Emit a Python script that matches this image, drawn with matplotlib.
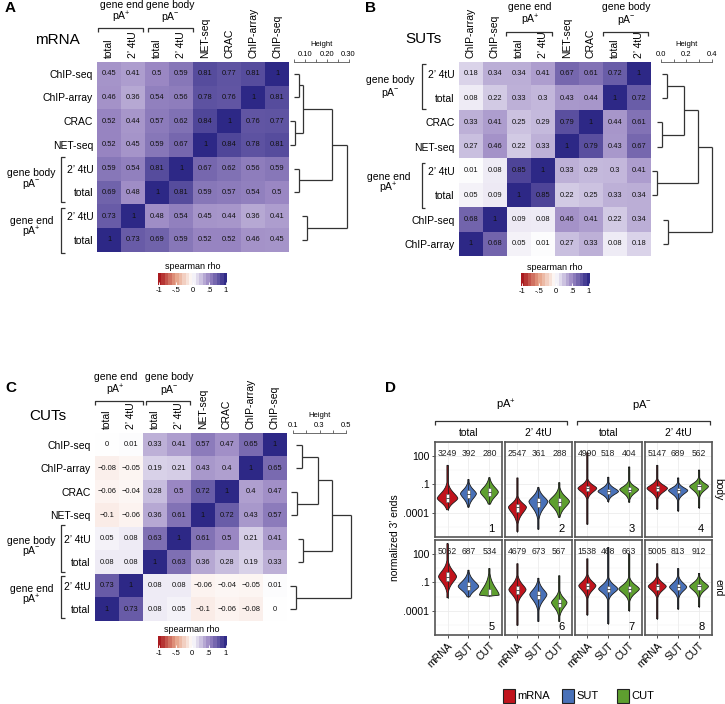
import numpy as np
import matplotlib
matplotlib.use('Agg')
import matplotlib.pyplot as plt
from matplotlib.colors import LinearSegmentedColormap
from matplotlib.patches import Rectangle
from matplotlib.lines import Line2D

plt.rcParams['font.family'] = ['Liberation Sans', 'DejaVu Sans']
plt.rcParams['mathtext.fontset'] = 'custom'
plt.rcParams['mathtext.rm'] = 'Liberation Sans'
plt.rcParams['mathtext.it'] = 'Liberation Sans'
plt.rcParams['mathtext.bf'] = 'Liberation Sans:bold'

# ---------------------------------------------------------------- data
A_cols = ['total', '2’ 4tU', 'total', '2’ 4tU', 'NET-seq', 'CRAC', 'ChIP-array', 'ChIP-seq']
A_rows = ['ChIP-seq', 'ChIP-array', 'CRAC', 'NET-seq', '2’ 4tU', 'total', '2’ 4tU', 'total']
A_rho = [
    [0.45, 0.41, 0.5, 0.59, 0.81, 0.77, 0.81, 1],
    [0.46, 0.36, 0.54, 0.56, 0.78, 0.76, 1, 0.81],
    [0.52, 0.44, 0.57, 0.62, 0.84, 1, 0.76, 0.77],
    [0.52, 0.45, 0.59, 0.67, 1, 0.84, 0.78, 0.81],
    [0.59, 0.54, 0.81, 1, 0.67, 0.62, 0.56, 0.59],
    [0.69, 0.48, 1, 0.81, 0.59, 0.57, 0.54, 0.5],
    [0.73, 1, 0.48, 0.54, 0.45, 0.44, 0.36, 0.41],
    [1, 0.73, 0.69, 0.59, 0.52, 0.52, 0.46, 0.45],
]
# merges: (child, child, height); leaves 0..7 = rows, merges numbered 8..
A_merges = [(0, 1, 0.073), (2, 3, 0.055), (8, 9, 0.091), (4, 5, 0.073),
            (10, 11, 0.223), (6, 7, 0.111), (12, 13, 0.294)]

B_cols = ['ChIP-array', 'ChIP-seq', 'total', '2’ 4tU', 'NET-seq', 'CRAC', 'total', '2’ 4tU']
B_rows = ['2’ 4tU', 'total', 'CRAC', 'NET-seq', '2’ 4tU', 'total', 'ChIP-seq', 'ChIP-array']
B_rho = [
    [0.18, 0.34, 0.34, 0.41, 0.67, 0.61, 0.72, 1],
    [0.08, 0.22, 0.33, 0.3, 0.43, 0.44, 1, 0.72],
    [0.33, 0.41, 0.25, 0.29, 0.79, 1, 0.44, 0.61],
    [0.27, 0.46, 0.22, 0.33, 1, 0.79, 0.43, 0.67],
    [0.01, 0.08, 0.85, 1, 0.33, 0.29, 0.3, 0.41],
    [0.05, 0.09, 1, 0.85, 0.22, 0.25, 0.33, 0.34],
    [0.68, 1, 0.09, 0.08, 0.46, 0.41, 0.22, 0.34],
    [1, 0.68, 0.05, 0.01, 0.27, 0.33, 0.08, 0.18],
]
B_merges = [(0, 1, 0.047), (2, 3, 0.008), (8, 9, 0.181), (4, 5, -0.031),
            (10, 11, 0.291), (6, 7, 0.055), (12, 13, 0.402)]

C_cols = ['total', '2’ 4tU', 'total', '2’ 4tU', 'NET-seq', 'CRAC', 'ChIP-array', 'ChIP-seq']
C_rows = ['ChIP-seq', 'ChIP-array', 'CRAC', 'NET-seq', '2’ 4tU', 'total', '2’ 4tU', 'total']
C_rho = [
    [0, 0.01, 0.33, 0.41, 0.57, 0.47, 0.65, 1],
    [-0.08, -0.05, 0.19, 0.21, 0.43, 0.4, 1, 0.65],
    [-0.06, -0.04, 0.28, 0.5, 0.72, 1, 0.4, 0.47],
    [-0.1, -0.06, 0.36, 0.61, 1, 0.72, 0.43, 0.57],
    [0.05, 0.08, 0.63, 1, 0.61, 0.5, 0.21, 0.41],
    [0.08, 0.08, 1, 0.63, 0.36, 0.28, 0.19, 0.33],
    [0.73, 1, 0.08, 0.08, -0.06, -0.04, -0.05, 0.01],
    [1, 0.73, 0.08, 0.05, -0.1, -0.06, -0.08, 0],
]
C_merges = [(0, 1, 0.166), (2, 3, 0.128), (8, 9, 0.291), (4, 5, 0.178),
            (10, 11, 0.392), (6, 7, 0.123), (12, 13, 0.535)]

D_types = ['mRNA', 'SUT', 'CUT']
D_colors = ['#C1141D', '#4971B8', '#5E9F2F']
D_strip_cols = ['total', '2’ 4tU', 'total', '2’ 4tU']
D_strip_rows = ['body', 'end']
D_counts = [[3249, 392, 280], [2547, 361, 288], [4990, 518, 404], [5147, 689, 562],
            [5062, 687, 534], [4679, 673, 567], [1538, 468, 663], [5005, 813, 912]]
# per violin (log10 scale): min, body low, mode, body high, max, half width
D_viol = [
    [(-3.7, -3.5, -2.5, -1.2, 1.0, 0.49), (-3.43, -3.16, -2.0, -1.0, -0.5, 0.38), (-3.1, -3.0, -1.83, -0.66, -0.3, 0.43)],
    [(-6.0, -4.83, -3.43, -2.5, -0.33, 0.43), (-5.76, -4.33, -2.83, -1.7, -1.33, 0.45), (-4.5, -4.16, -2.83, -1.66, -0.83, 0.49)],
    [(-5.23, -2.33, -1.43, -0.66, 2.33, 0.45), (-2.83, -2.5, -1.76, -1.0, -0.26, 0.49), (-2.9, -2.43, -1.56, -0.83, 0.83, 0.45)],
    [(-3.63, -2.33, -1.43, -0.66, 1.0, 0.49), (-3.83, -2.5, -1.66, -1.0, -0.33, 0.46), (-3.5, -2.16, -1.23, -0.5, 0.5, 0.45)],
    [(-2.63, -1.77, -0.4, 0.97, 3.1, 0.43), (-2.53, -2.46, -1.43, -0.23, 0.28, 0.49), (-2.46, -2.46, -2.35, -0.57, 0.46, 0.47)],
    [(-5.54, -2.97, -1.77, -0.57, 0.97, 0.41), (-5.13, -3.66, -2.29, -1.09, -0.57, 0.41), (-5.13, -4.35, -3.14, -2.11, -0.3, 0.37)],
    [(-4.45, -2.46, -1.36, -0.4, 1.49, 0.41), (-5.37, -2.63, -1.7, -0.75, 2.69, 0.46), (-4.0, -2.73, -1.7, -0.75, 2.0, 0.49)],
    [(-4.86, -2.39, -1.43, -0.57, 0.97, 0.43), (-3.83, -2.46, -1.5, -0.57, 0.46, 0.41), (-3.59, -2.39, -1.43, -0.57, -0.06, 0.45)],
]
D_yticks = [2, -1, -4]
D_yticklabels = ['100', '.1', '.0001']

# ---------------------------------------------------------------- helpers
W, H = 725, 704
fig = plt.figure(figsize=(W / 100, H / 100), dpi=100)

def axpx(x0, y0, x1, y1):
    return fig.add_axes([x0 / W, 1 - y1 / H, (x1 - x0) / W, (y1 - y0) / H])

def tpx(x, y, s, **kw):
    kw.setdefault('ha', 'center')
    kw.setdefault('va', 'center')
    fig.text(x / W, 1 - y / H, s, **kw)

def lpx(xs, ys, color='#333333', lw=0.9):
    fig.add_artist(Line2D([x / W for x in xs], [1 - y / H for y in ys],
                          color=color, lw=lw, transform=fig.transFigure,
                          solid_capstyle='butt'))

def col_bracket(x0, x1, y, drop=4):
    lpx([x0, x0, x1, x1], [y + drop, y, y, y + drop])

def row_bracket(x, y0, y1, ext=3.5):
    lpx([x + ext, x, x, x + ext], [y0, y0, y1, y1])

cmap = LinearSegmentedColormap.from_list('rho', [
    (0.0, '#A8161C'), (0.25, '#E6A186'), (0.5, '#FFFFFF'),
    (0.75, '#9C89C4'), (1.0, '#2D2886')])

def fmt(v):
    s = ('%g' % v)
    return s.replace('-', '−')

FS = 7.5

def heatmap(box, rho, rows, cols):
    ax = axpx(*box)
    ax.imshow(np.array(rho, dtype=float), cmap=cmap, vmin=-1, vmax=1,
              aspect='auto', interpolation='nearest')
    for i, r in enumerate(rho):
        for j, v in enumerate(r):
            ax.text(j, i, fmt(v), ha='center', va='center', fontsize=5.4, color='#111111')
    ax.set_xticks(range(len(cols)))
    ax.set_xticklabels(cols, rotation=90, fontsize=FS)
    ax.xaxis.tick_top()
    ax.set_yticks(range(len(rows)))
    ax.set_yticklabels(rows, fontsize=FS)
    ax.tick_params(length=0, pad=3)
    for s in ax.spines.values():
        s.set_visible(False)
    return ax

def dendro(box, merges, hang, ref, ref_px, ppu, ticks, ticklabels):
    x0, y0, x1, y1 = box
    ax = axpx(x0, y0, x1, y1)
    ax.set_xlim(ref + (x0 - ref_px) / ppu, ref + (x1 - ref_px) / ppu)
    ax.set_ylim(7.5, -0.5)
    ypos = {i: float(i) for i in range(8)}
    hgt = {}
    nid = 8
    for a, b, h in merges:
        for c in (a, b):
            hc = hgt.get(c, h - hang)
            ax.plot([hc, h], [ypos[c], ypos[c]], color='#333333', lw=0.9,
                    solid_capstyle='butt')
        ax.plot([h, h], [ypos[a], ypos[b]], color='#333333', lw=0.9,
                solid_capstyle='butt')
        ypos[nid] = (ypos[a] + ypos[b]) / 2
        hgt[nid] = h
        nid += 1
    for k in ('left', 'right', 'bottom'):
        ax.spines[k].set_visible(False)
    ax.spines['top'].set_bounds(ticks[0], ticks[-1])
    ax.spines['top'].set_linewidth(0.6)
    ax.spines['top'].set_color('#555555')
    ax.patch.set_alpha(0)
    ax.set_yticks([])
    ax.xaxis.tick_top()
    ax.set_xticks(ticks)
    ax.set_xticklabels(ticklabels, fontsize=5.5)
    ax.tick_params(axis='x', length=2, width=0.6, pad=1, color='#555555')
    ax.annotate('Height', xy=((ticks[0] + ticks[-1]) / 2, 1), xycoords=('data', 'axes fraction'),
                xytext=(0, 10), textcoords='offset points', ha='center', va='bottom', fontsize=5.5)
    return ax

def colorbar(box, label_xy):
    ax = axpx(*box)
    edges = np.linspace(-1.03, 1.03, 21)
    centers = (edges[:-1] + edges[1:]) / 2
    ax.imshow(centers[None, :], cmap=cmap, vmin=-1, vmax=1, aspect='auto',
              extent=(-1.03, 1.03, 0, 1), interpolation='nearest')
    ax.set_xlim(-1.03, 1.03)
    ax.set_yticks([])
    ax.set_xticks([-1, -0.5, 0, 0.5, 1])
    ax.set_xticklabels(['-1', '-.5', '0', '.5', '1'], fontsize=5.5)
    ax.tick_params(axis='x', direction='in', length=2.5, width=0.6, color='white', pad=1.5)
    for s in ax.spines.values():
        s.set_visible(False)
    tpx(label_xy[0], label_xy[1], 'spearman rho', fontsize=6.5)

# ---------------------------------------------------------------- panel A
tpx(5, 8, 'A', fontsize=11, fontweight='bold', ha='left')
tpx(57.5, 40, 'mRNA', fontsize=11)
heatmap((97.3, 61.7, 289.3, 251.7), A_rho, A_rows, A_cols)
tpx(121.5, 5, 'gene end', fontsize=FS)
tpx(121.5, 17, r'pA$^{+}$', fontsize=FS)
col_bracket(98, 143, 27.5)
tpx(170, 5, 'gene body', fontsize=FS)
tpx(170, 17, r'pA$^{-}$', fontsize=FS)
col_bracket(148, 193, 27.5)
tpx(31.7, 172.7, 'gene body', fontsize=FS)
tpx(31.7, 184, r'pA$^{-}$', fontsize=FS)
row_bracket(61, 156.7, 201.7)
tpx(31.7, 220.7, 'gene end', fontsize=FS)
tpx(31.7, 232, r'pA$^{+}$', fontsize=FS)
row_bracket(61, 208.3, 252.7)
dendro((285, 61.7, 362, 251.7), A_merges, 0.025, 0.05, 294, 218,
       [0.05, 0.10, 0.15, 0.20, 0.25, 0.30], ['', '0.10', '', '0.20', '', '0.30'])
colorbar((158.3, 272.7, 226.7, 285), (192.5, 266.7))

# ---------------------------------------------------------------- panel B
tpx(365, 8, 'B', fontsize=11, fontweight='bold', ha='left')
tpx(423, 39.3, 'SUTs', fontsize=11)
heatmap((459, 61.7, 650.7, 256), B_rho, B_rows, B_cols)
tpx(530, 7.3, 'gene end', fontsize=FS)
tpx(530, 20, r'pA$^{+}$', fontsize=FS)
col_bracket(505.7, 552.3, 31.7)
tpx(626.5, 7.3, 'gene body', fontsize=FS)
tpx(626.5, 20, r'pA$^{-}$', fontsize=FS)
col_bracket(603.3, 648.3, 31.7)
tpx(390, 80, 'gene body', fontsize=FS)
tpx(390, 93.3, r'pA$^{-}$', fontsize=FS)
row_bracket(422.3, 64.3, 109.3)
tpx(388.3, 176.7, 'gene end', fontsize=FS)
tpx(388.3, 188, r'pA$^{+}$', fontsize=FS)
row_bracket(421.7, 163.3, 207.7)
dendro((645, 61.7, 722, 256), B_merges, 0.04, 0.0, 661, 127,
       [0.0, 0.1, 0.2, 0.3, 0.4], ['0.0', '', '0.2', '', '0.4'])
colorbar((521, 273.3, 590, 286), (555, 267.3))

# ---------------------------------------------------------------- panel C
tpx(5, 388, 'C', fontsize=11, fontweight='bold', ha='left')
tpx(48.3, 416, 'CUTs', fontsize=11)
heatmap((95, 433, 287, 621), C_rho, C_rows, C_cols)
tpx(115.7, 377.3, 'gene end', fontsize=FS)
tpx(115.7, 390, r'pA$^{+}$', fontsize=FS)
col_bracket(95, 142.7, 400.7)
tpx(169, 377.3, 'gene body', fontsize=FS)
tpx(169, 390, r'pA$^{-}$', fontsize=FS)
col_bracket(145.7, 190, 400.7)
tpx(31.7, 540.7, 'gene body', fontsize=FS)
tpx(31.7, 551.5, r'pA$^{-}$', fontsize=FS)
row_bracket(61, 525, 571.7)
tpx(31.7, 589.3, 'gene end', fontsize=FS)
tpx(31.7, 600.5, r'pA$^{+}$', fontsize=FS)
row_bracket(61, 576, 618.3)
dendro((283, 433, 362, 621), C_merges, 0.043, 0.1, 293, 132.5,
       [0.1, 0.2, 0.3, 0.4, 0.5], ['0.1', '', '0.3', '', '0.5'])
colorbar((158, 636, 226.5, 648), (192, 630))

# ---------------------------------------------------------------- panel D
tpx(385, 388, 'D', fontsize=11, fontweight='bold', ha='left')
px_x0 = [435, 504.9, 574.8, 644.7]
px_w = 66.9
px_y0 = [441.7, 539.8]
px_h = 95.5

def violin(ax, x, p, color):
    ymin, blo, mode, bhi, ymax, w = p
    y = np.linspace(ymin, ymax, 400)
    slo = max((mode - blo) / 2.0, 0.05)
    shi = max((bhi - mode) / 2.0, 0.05)
    s = np.where(y < mode, slo, shi)
    hw = np.maximum(w * np.exp(-0.6 * np.abs((y - mode) / s) ** 1.6), 0.03)
    xs = np.concatenate([x - hw, (x + hw)[::-1]])
    ys = np.concatenate([y, y[::-1]])
    ax.fill(xs, ys, facecolor=color, edgecolor='#1A1A1A', lw=0.6, zorder=3)
    q1 = max(mode - 0.7 * slo, ymin)
    q3 = mode + 0.7 * shi
    ax.plot([x, x], [ymin, ymax], color='#1A1A1A', lw=0.5, zorder=3.5)
    ax.add_patch(Rectangle((x - 0.075, q1), 0.15, q3 - q1, fc='white', ec='#666666',
                           lw=0.5, zorder=4))
    ax.plot([x - 0.075, x + 0.075], [mode, mode], color='#555555', lw=0.7, zorder=5)

for r in range(2):
    for c in range(4):
        k = r * 4 + c
        ax = axpx(px_x0[c], px_y0[r], px_x0[c] + px_w, px_y0[r] + px_h)
        ax.set_xlim(0.4, 3.6)
        ax.set_ylim(-6.6, 3.05)
        ax.set_xticks([1, 2, 3])
        ax.set_yticks(D_yticks)
        ax.set_yticks([3.5, 0.5, -2.5, -5.5], minor=True)
        ax.grid(True, which='major', color='#EBEBEB', lw=0.55, zorder=0)
        ax.grid(True, which='minor', axis='y', color='#F2F2F2', lw=0.35, zorder=0)
        ax.set_axisbelow(True)
        ax.tick_params(which='minor', length=0)
        ax.tick_params(which='major', length=2.5, width=0.6, color='#333333', pad=1.5)
        if c == 0:
            ax.set_yticklabels(D_yticklabels, fontsize=FS)
        else:
            ax.set_yticklabels([])
            ax.tick_params(axis='y', which='major', length=0)
        if r == 1:
            ax.set_xticklabels(D_types, fontsize=FS, rotation=45, ha='right',
                               rotation_mode='anchor')
        else:
            ax.set_xticklabels([])
            ax.tick_params(axis='x', which='major', length=0)
        for s in ax.spines.values():
            s.set_color('#555555')
            s.set_linewidth(1.2)
        for i in range(3):
            ax.text(i + 1, 2.3, str(D_counts[k][i]), ha='center', va='center',
                    fontsize=6.2, color='#222222', zorder=2)
            violin(ax, i + 1, D_viol[k][i], D_colors[i])
        ax.text(3.1, -5.7, str(k + 1), ha='center', va='center', fontsize=8)

for c in range(4):
    tpx(px_x0[c] + px_w / 2, 433.3, D_strip_cols[c], fontsize=FS)
for r in range(2):
    tpx(718.3, px_y0[r] + px_h / 2, D_strip_rows[r], fontsize=FS, rotation=-90)
tpx(506, 405, r'pA$^{+}$', fontsize=8)
tpx(641.7, 405, r'pA$^{-}$', fontsize=8)
col_bracket(435, 567.3, 420.7, drop=4.3)
col_bracket(576.7, 710, 420.7, drop=4.3)
tpx(395, 538, 'normalized 3’ ends', fontsize=FS, rotation=90)

leg_x = [502.7, 561.7, 616.7]
for i in range(3):
    fig.add_artist(Rectangle((leg_x[i] / W, 1 - 702.6 / H), 12.3 / W, 13.3 / H,
                             transform=fig.transFigure, fc=D_colors[i], ec='#222222', lw=0.8))
    tpx(leg_x[i] + 15, 696, D_types[i], fontsize=8, ha='left')

fig.savefig('out.png', dpi=100)
